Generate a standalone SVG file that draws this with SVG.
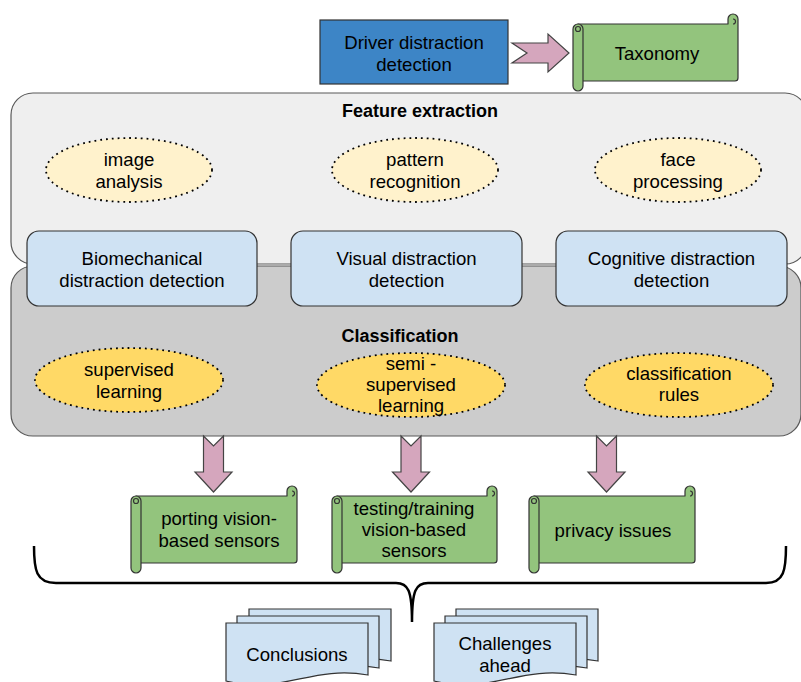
<svg xmlns="http://www.w3.org/2000/svg" width="801" height="682" viewBox="0 0 801 682">
<style>
text{font-family:"Liberation Sans",Arial,sans-serif;font-size:18.6px;fill:#000;text-anchor:middle}
.b{font-weight:bold;font-size:18px}
.cont{stroke:#595959;stroke-width:1.2}
.inner{fill:#cfe2f3;stroke:#333;stroke-width:1.2}
.ell1{fill:#fff2cc;stroke:#000;stroke-width:1.8;stroke-dasharray:1.8 4}
.ell2{fill:#ffd966;stroke:#000;stroke-width:1.8;stroke-dasharray:1.8 4}
.scroll{fill:#93c47d;stroke:#333;stroke-width:1.2;stroke-linejoin:round}
.curl{fill:none;stroke:#333;stroke-width:1.2}
.arr{fill:#d5a6bd;stroke:#444;stroke-width:1.2;stroke-linejoin:miter}
.doc{fill:#cfe2f3;stroke:#333;stroke-width:1.2}
</style>
<rect width="801" height="682" fill="#fff"/>

<g id="feature-extraction">
<rect class="cont" x="11" y="93" width="796" height="171" rx="22" fill="#efefef"/>
<text class="b" x="420" y="117">Feature extraction</text>
</g>
<g id="classification">
<rect class="cont" x="11" y="266" width="790" height="170" rx="22" fill="#cccccc"/>
<text class="b" x="400" y="342">Classification</text>
</g>

<g id="driver-distraction-detection">
<rect x="320" y="20" width="188" height="64" fill="#3d85c6" stroke="#333" stroke-width="1.2"/>
<text x="414" y="49">Driver distraction</text>
<text x="414" y="71">detection</text>
</g>

<g id="taxonomy">
<path class="scroll" d="M578,24 H728 V19 A5,5 0 0 1 738,19 V78 Q738,81 735,81 H578 Z"/>
<path class="scroll" d="M573,29 A5,5 0 0 1 583,29 V86 A5,5 0 0 1 573,86 Z"/>
<circle class="curl" cx="578" cy="29" r="2.5"/>
<path class="curl" d="M733,24 A2.5,2.5 0 0 0 733,19"/>
<text x="657" y="60">Taxonomy</text>
</g>

<g id="image-analysis">
<ellipse class="ell1" cx="129" cy="170" rx="83" ry="32"/>
<text x="129" y="166">image</text>
<text x="129" y="188">analysis</text>
</g>
<g id="pattern-recognition">
<ellipse class="ell1" cx="415" cy="170" rx="83" ry="32"/>
<text x="415" y="166">pattern</text>
<text x="415" y="188">recognition</text>
</g>
<g id="face-processing">
<ellipse class="ell1" cx="678" cy="170" rx="83" ry="32"/>
<text x="678" y="166">face</text>
<text x="678" y="188">processing</text>
</g>

<g id="biomechanical">
<rect class="inner" x="27" y="231" width="230" height="75" rx="12"/>
<text x="142" y="265">Biomechanical</text>
<text x="142" y="287">distraction detection</text>
</g>
<g id="visual">
<rect class="inner" x="291" y="231" width="231" height="75" rx="12"/>
<text x="406.5" y="265">Visual distraction</text>
<text x="406.5" y="287">detection</text>
</g>
<g id="cognitive">
<rect class="inner" x="556" y="231" width="231" height="75" rx="12"/>
<text x="671.5" y="265">Cognitive distraction</text>
<text x="671.5" y="287">detection</text>
</g>

<g id="supervised-learning">
<ellipse class="ell2" cx="129" cy="380" rx="94" ry="32"/>
<text x="129" y="376">supervised</text>
<text x="129" y="398">learning</text>
</g>
<g id="semi-supervised-learning">
<ellipse class="ell2" cx="411" cy="385" rx="94" ry="32"/>
<text x="411" y="370">semi -</text>
<text x="411" y="391">supervised</text>
<text x="411" y="412">learning</text>
</g>
<g id="classification-rules">
<ellipse class="ell2" cx="679" cy="385" rx="94" ry="32"/>
<text x="679" y="380">classification</text>
<text x="679" y="401">rules</text>
</g>

<g id="porting">
<path class="scroll" d="M136,496 H287 V491 A5,5 0 0 1 297,491 V560 Q297,563 294,563 H136 Z"/>
<path class="scroll" d="M131,501 A5,5 0 0 1 141,501 V568 A5,5 0 0 1 131,568 Z"/>
<circle class="curl" cx="136" cy="501" r="2.5"/>
<path class="curl" d="M292,496 A2.5,2.5 0 0 0 292,491"/>
<text x="219" y="525">porting vision-</text>
<text x="219" y="547">based sensors</text>
</g>
<g id="testing-training">
<path class="scroll" d="M337,496 H487 V491 A5,5 0 0 1 497,491 V560 Q497,563 494,563 H337 Z"/>
<path class="scroll" d="M332,501 A5,5 0 0 1 342,501 V568 A5,5 0 0 1 332,568 Z"/>
<circle class="curl" cx="337" cy="501" r="2.5"/>
<path class="curl" d="M492,496 A2.5,2.5 0 0 0 492,491"/>
<text x="414" y="515">testing/training</text>
<text x="414" y="536">vision-based</text>
<text x="414" y="557">sensors</text>
</g>
<g id="privacy">
<path class="scroll" d="M534,496 H685 V491 A5,5 0 0 1 695,491 V560 Q695,563 692,563 H534 Z"/>
<path class="scroll" d="M529,501 A5,5 0 0 1 539,501 V568 A5,5 0 0 1 529,568 Z"/>
<circle class="curl" cx="534" cy="501" r="2.5"/>
<path class="curl" d="M690,496 A2.5,2.5 0 0 0 690,491"/>
<text x="613" y="537">privacy issues</text>
</g>

<g id="conclusions">
<path class="doc" d="M249,609 H391 V661 C334,651 306,681 249,667 Z"/>
<path class="doc" d="M237,616 H379 V668 C322,658 294,688 237,674 Z"/>
<path class="doc" d="M226,623 H368 V675 C311,665 283,695 226,681 Z"/>
<text x="297" y="661">Conclusions</text>
</g>
<g id="challenges">
<path class="doc" d="M456,609 H598 V661 C541,651 513,681 456,667 Z"/>
<path class="doc" d="M445,616 H587 V668 C530,658 502,688 445,674 Z"/>
<path class="doc" d="M434,623 H576 V675 C519,665 491,695 434,681 Z"/>
<text x="505" y="650">Challenges</text>
<text x="505" y="672">ahead</text>
</g>

<g id="connectors">
<polygon class="arr" points="512,43 548,43 548,34 569,53 548,72 548,63 512,63 527,53"/>
<polygon class="arr" points="203.5,436 213.5,446 223.5,436 223.5,472 232,472 213.5,492 195,472 203.5,472"/>
<polygon class="arr" points="401,436 411,446 421,436 421,472 429.5,472 411,492 392.5,472 401,472"/>
<polygon class="arr" points="596.5,436 606.5,446 616.5,436 616.5,472 625,472 606.5,492 588,472 596.5,472"/>
<path d="M34,546 C34,570 36,583 56,583 H396 C408,583 412,590 412,622 C412,590 416,583 428,583 H766 C784,583 786,570 786,546" fill="none" stroke="#000" stroke-width="2.5"/>
</g>
</svg>
